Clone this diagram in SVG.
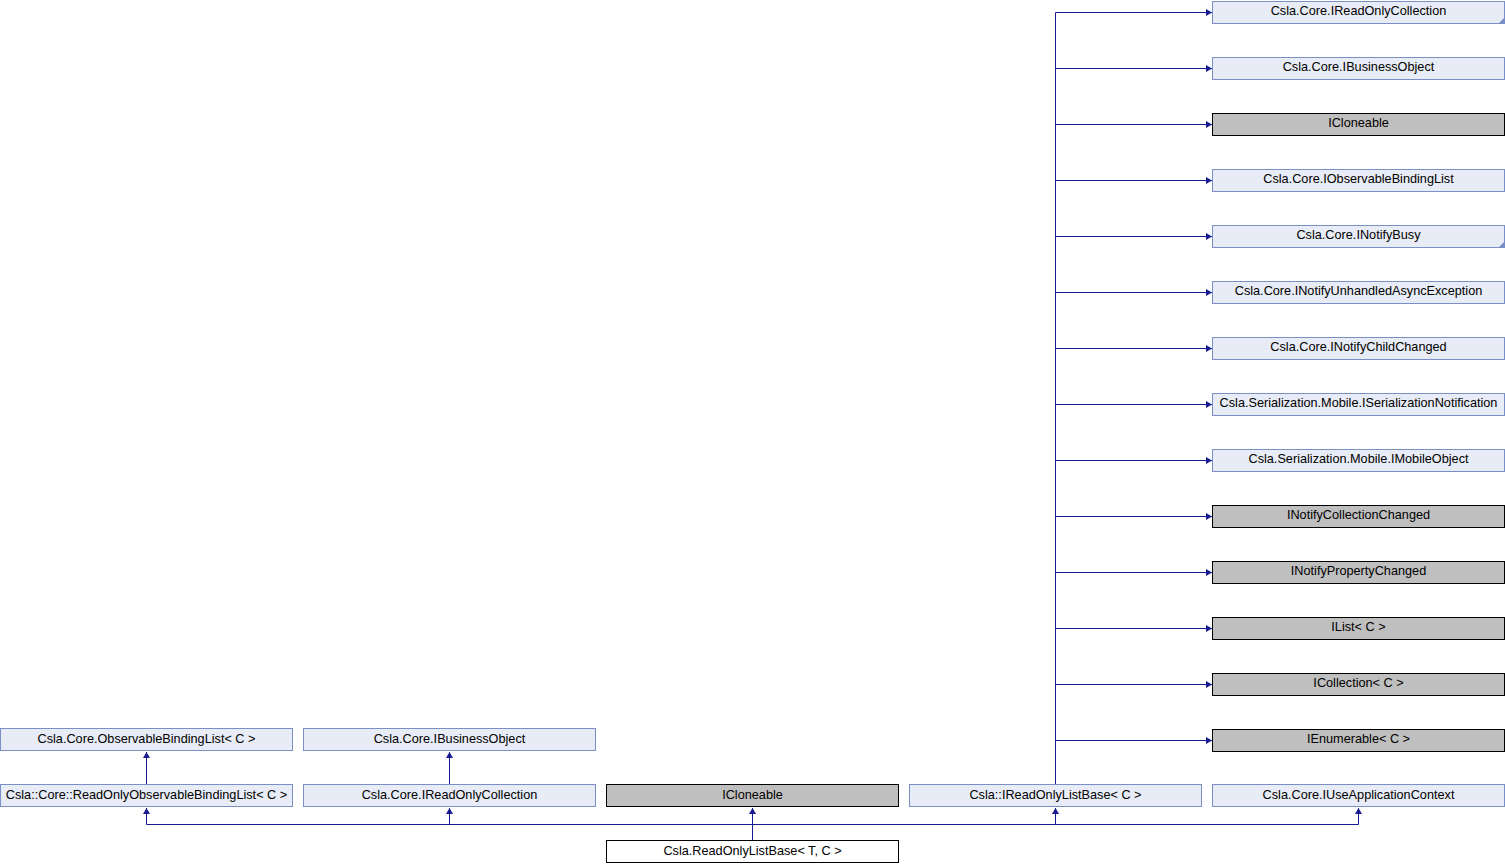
<svg xmlns="http://www.w3.org/2000/svg" width="1505" height="864" viewBox="0 0 1505 864">
<style>
.n rect{fill:#e8ecf6;stroke:#7b8fc7;stroke-width:1}
.g rect{fill:#bfbfbf;stroke:#000;stroke-width:1}
.w rect{fill:#fff;stroke:#000;stroke-width:1}
text{font-family:"Liberation Sans",Arial,sans-serif;font-size:12.7px;fill:#000;text-anchor:middle}
.e path{fill:none;stroke:#191990;stroke-width:1;marker-end:url(#a)}
.c{fill:#7b8fc7}
</style>
<defs>
<marker id="a" markerUnits="userSpaceOnUse" markerWidth="8" markerHeight="8" refX="6" refY="3.5" orient="auto">
<path d="M0,0 L6,3.5 L0,7 z" fill="#191990"/>
</marker>
</defs>
<rect width="1505" height="864" fill="#fff"/>
<g class="e" id="edges">
<path d="M752.5,840 V808"/>
<path d="M752.5,840 V824.5 H146.5 V808"/>
<path d="M752.5,840 V824.5 H449.5 V808"/>
<path d="M752.5,840 V824.5 H1055.5 V808"/>
<path d="M752.5,840 V824.5 H1358.5 V808"/>
<path d="M146.5,784 V752"/>
<path d="M449.5,784 V752"/>
<path d="M1055.5,784 V12.5 H1212"/>
<path d="M1055.5,784 V68.5 H1212"/>
<path d="M1055.5,784 V124.5 H1212"/>
<path d="M1055.5,784 V180.5 H1212"/>
<path d="M1055.5,784 V236.5 H1212"/>
<path d="M1055.5,784 V292.5 H1212"/>
<path d="M1055.5,784 V348.5 H1212"/>
<path d="M1055.5,784 V404.5 H1212"/>
<path d="M1055.5,784 V460.5 H1212"/>
<path d="M1055.5,784 V516.5 H1212"/>
<path d="M1055.5,784 V572.5 H1212"/>
<path d="M1055.5,784 V628.5 H1212"/>
<path d="M1055.5,784 V684.5 H1212"/>
<path d="M1055.5,784 V740.5 H1212"/>
</g>
<g id="readonlylistbase" class="w"><rect x="606.5" y="840.5" width="292" height="22"/><text x="752.5" y="855">Csla.ReadOnlyListBase&lt; T, C &gt;</text></g>
<g id="roobl" class="n"><rect x="0.5" y="784.5" width="292" height="22"/><text x="146.5" y="799">Csla::Core::ReadOnlyObservableBindingList&lt; C &gt;</text></g>
<g id="obl" class="n"><rect x="0.5" y="728.5" width="292" height="22"/><text x="146.5" y="743">Csla.Core.ObservableBindingList&lt; C &gt;</text></g>
<g id="iroc_b" class="n"><rect x="303.5" y="784.5" width="292" height="22"/><text x="449.5" y="799">Csla.Core.IReadOnlyCollection</text></g>
<g id="ibo_b" class="n"><rect x="303.5" y="728.5" width="292" height="22"/><text x="449.5" y="743">Csla.Core.IBusinessObject</text></g>
<g id="icloneable_b" class="g"><rect x="606.5" y="784.5" width="292" height="22"/><text x="752.5" y="799">ICloneable</text></g>
<g id="irolb" class="n"><rect x="909.5" y="784.5" width="292" height="22"/><text x="1055.5" y="799">Csla::IReadOnlyListBase&lt; C &gt;</text></g>
<g id="iuac" class="n"><rect x="1212.5" y="784.5" width="292" height="22"/><text x="1358.5" y="799">Csla.Core.IUseApplicationContext</text></g>
<g id="r0" class="n"><rect x="1212.5" y="1.5" width="292" height="22"/><polygon class="c" points="1504,18 1504,23 1499,23"/><text x="1358.5" y="15">Csla.Core.IReadOnlyCollection</text></g>
<g id="r1" class="n"><rect x="1212.5" y="57.5" width="292" height="22"/><text x="1358.5" y="71">Csla.Core.IBusinessObject</text></g>
<g id="r2" class="g"><rect x="1212.5" y="113.5" width="292" height="22"/><text x="1358.5" y="127">ICloneable</text></g>
<g id="r3" class="n"><rect x="1212.5" y="169.5" width="292" height="22"/><text x="1358.5" y="183">Csla.Core.IObservableBindingList</text></g>
<g id="r4" class="n"><rect x="1212.5" y="225.5" width="292" height="22"/><polygon class="c" points="1504,242 1504,247 1499,247"/><text x="1358.5" y="239">Csla.Core.INotifyBusy</text></g>
<g id="r5" class="n"><rect x="1212.5" y="281.5" width="292" height="22"/><text x="1358.5" y="295">Csla.Core.INotifyUnhandledAsyncException</text></g>
<g id="r6" class="n"><rect x="1212.5" y="337.5" width="292" height="22"/><text x="1358.5" y="351">Csla.Core.INotifyChildChanged</text></g>
<g id="r7" class="n"><rect x="1212.5" y="393.5" width="292" height="22"/><text x="1358.5" y="407">Csla.Serialization.Mobile.ISerializationNotification</text></g>
<g id="r8" class="n"><rect x="1212.5" y="449.5" width="292" height="22"/><text x="1358.5" y="463">Csla.Serialization.Mobile.IMobileObject</text></g>
<g id="r9" class="g"><rect x="1212.5" y="505.5" width="292" height="22"/><text x="1358.5" y="519">INotifyCollectionChanged</text></g>
<g id="r10" class="g"><rect x="1212.5" y="561.5" width="292" height="22"/><text x="1358.5" y="575">INotifyPropertyChanged</text></g>
<g id="r11" class="g"><rect x="1212.5" y="617.5" width="292" height="22"/><text x="1358.5" y="631">IList&lt; C &gt;</text></g>
<g id="r12" class="g"><rect x="1212.5" y="673.5" width="292" height="22"/><text x="1358.5" y="687">ICollection&lt; C &gt;</text></g>
<g id="r13" class="g"><rect x="1212.5" y="729.5" width="292" height="22"/><text x="1358.5" y="743">IEnumerable&lt; C &gt;</text></g>
</svg>
